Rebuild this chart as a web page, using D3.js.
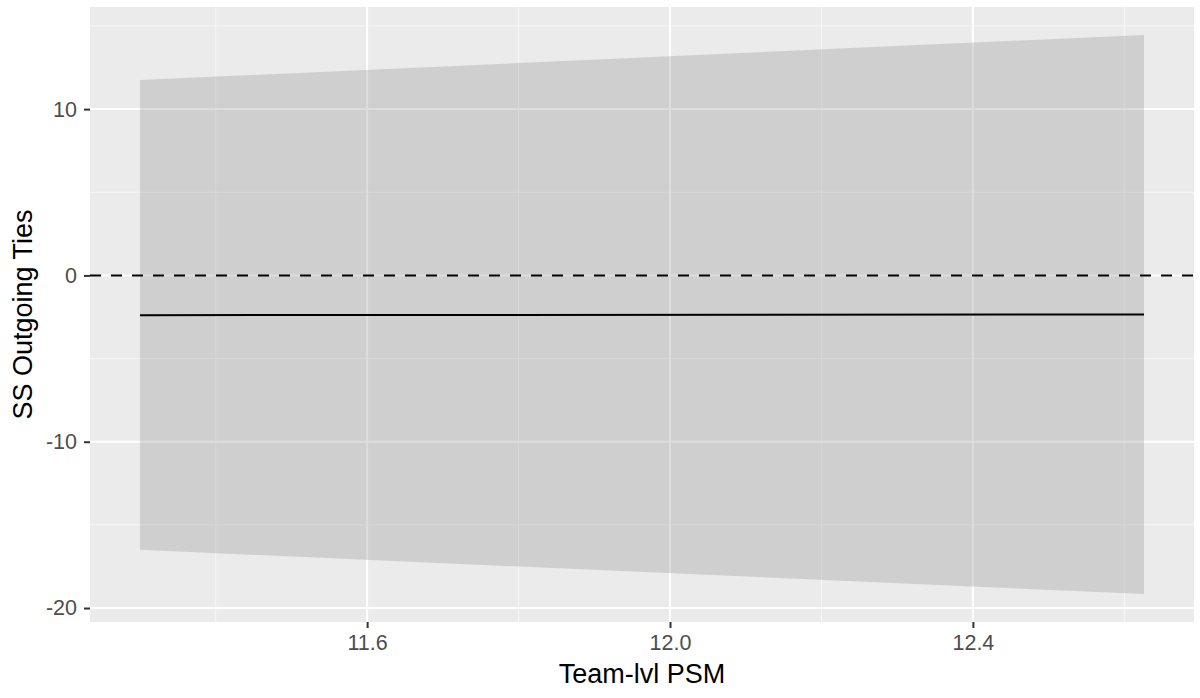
<!DOCTYPE html>
<html>
<head>
<meta charset="utf-8">
<script src="https://cdn.jsdelivr.net/npm/d3@7"></script>
<style>
  body { margin: 0; background: #fff; }
  text { font-family: "Liberation Sans", Arial, Helvetica, sans-serif; }
</style>
</head>
<body>
<div id="chart"></div>
<script>
// values
var psm = [11.30, 12.626];          // x at the two ends
var fitVals = [-2.39, -2.35];       // fitted line
var lowerVals = [-16.5, -19.16];    // ribbon lower edge
var upperVals = [11.75, 14.46];     // ribbon upper edge
var refLine = 0;                    // dashed reference
var xTicks = [11.6, 12.0, 12.4];
var xMinor = [11.4, 11.8, 12.2, 12.6];
var yTicks = [-20, -10, 0, 10];
var yMinor = [-15, -5, 5, 15];

function main(){
  var W = 1200, H = 698;
  var left = 90, right = 1194, top = 7, bottom = 622;

  var svg = d3.select("#chart").append("svg")
      .attr("width", W)
      .attr("height", H);

  var xScale = d3.scaleLinear().domain([11.234, 12.692]).range([left, right]);
  var yScale = d3.scaleLinear().domain([-20.84, 16.14]).range([bottom, top]);

  // panel background
  svg.append("rect")
      .attr("x", left).attr("y", top)
      .attr("width", right - left).attr("height", bottom - top)
      .attr("fill", "#ebebeb");

  // minor grid
  svg.selectAll(".xminor").data(xMinor).enter().append("line")
      .attr("x1", d => xScale(d)).attr("x2", d => xScale(d))
      .attr("y1", top).attr("y2", bottom)
      .attr("stroke", "#f7f7f7").attr("stroke-width", 1);
  svg.selectAll(".yminor").data(yMinor).enter().append("line")
      .attr("y1", d => yScale(d)).attr("y2", d => yScale(d))
      .attr("x1", left).attr("x2", right)
      .attr("stroke", "#f7f7f7").attr("stroke-width", 1);

  // major grid
  svg.selectAll(".xmajor").data(xTicks).enter().append("line")
      .attr("x1", d => xScale(d)).attr("x2", d => xScale(d))
      .attr("y1", top).attr("y2", bottom)
      .attr("stroke", "#fff").attr("stroke-width", 2);
  svg.selectAll(".ymajor").data(yTicks).enter().append("line")
      .attr("y1", d => yScale(d)).attr("y2", d => yScale(d))
      .attr("x1", left).attr("x2", right)
      .attr("stroke", "#fff").attr("stroke-width", 2);

  var rows = psm.map((x, i) => ({x: x, fit: fitVals[i], lo: lowerVals[i], hi: upperVals[i]}));

  // confidence ribbon
  var area = d3.area()
      .x(d => xScale(d.x))
      .y0(d => yScale(d.lo))
      .y1(d => yScale(d.hi));
  svg.append("path")
      .datum(rows)
      .attr("d", area)
      .attr("fill", "#999999")
      .attr("fill-opacity", 0.33);

  // dashed zero line
  svg.append("line")
      .attr("x1", left).attr("x2", right)
      .attr("y1", yScale(refLine)).attr("y2", yScale(refLine))
      .attr("stroke", "#000").attr("stroke-width", 2)
      .attr("stroke-dasharray", "11,10");

  // fitted line
  var line = d3.line().x(d => xScale(d.x)).y(d => yScale(d.fit));
  svg.append("path")
      .datum(rows)
      .attr("d", line)
      .attr("fill", "none")
      .attr("stroke", "#000")
      .attr("stroke-width", 2);

  // axes
  var xAxis = svg.append("g")
      .attr("transform", "translate(0," + bottom + ")")
      .call(d3.axisBottom(xScale).tickValues(xTicks).tickFormat(d3.format(".1f")).tickSize(6).tickPadding(7));
  var yAxis = svg.append("g")
      .attr("transform", "translate(" + left + ",0)")
      .call(d3.axisLeft(yScale).tickValues(yTicks).tickFormat(d => String(d)).tickSize(6).tickPadding(7));

  [xAxis, yAxis].forEach(function(g){
    g.attr("font-size", null).attr("font-family", null);
    g.select(".domain").remove();
    g.selectAll(".tick line").attr("stroke", "#333").attr("stroke-width", 2);
    g.selectAll(".tick text").attr("fill", "#4d4d4d").style("font-size", "21.5px");
  });

  // axis titles
  svg.append("text")
      .attr("x", (left + right) / 2)
      .attr("y", 683)
      .attr("text-anchor", "middle")
      .style("font-size", "27px")
      .attr("fill", "#000")
      .text("Team-lvl PSM");

  svg.append("text")
      .attr("transform", "translate(32," + (top + bottom) / 2 + ") rotate(-90)")
      .attr("text-anchor", "middle")
      .style("font-size", "27px")
      .attr("fill", "#000")
      .text("SS Outgoing Ties");
}

main()
</script>
</body>
</html>
